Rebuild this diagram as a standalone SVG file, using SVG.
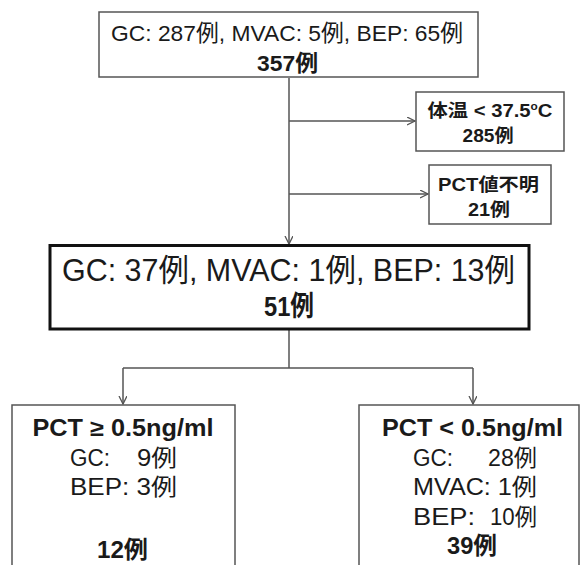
<svg xmlns="http://www.w3.org/2000/svg" width="581" height="565" viewBox="0 0 581 565">
<style>
text{font-family:"Liberation Sans","Noto Sans CJK JP",sans-serif;fill:#1a1a1a}
.b{font-weight:bold}
.m{text-anchor:middle}
.box{fill:#fff;stroke:#555;stroke-width:1.5}
.main{fill:#fff;stroke:#111;stroke-width:3}
.c{fill:none;stroke:#555;stroke-width:1.5}
</style>
<defs>
<marker id="ah" markerWidth="10" markerHeight="10" refX="8" refY="4" orient="auto" markerUnits="userSpaceOnUse">
<path d="M0,0 L8,4 L0,8" fill="none" stroke="#555" stroke-width="1.3"/>
</marker>
</defs>
<g id="connectors">
<path class="c" d="M289,78 V244" marker-end="url(#ah)"/>
<path class="c" d="M289,121 H415" marker-end="url(#ah)"/>
<path class="c" d="M289,194 H428" marker-end="url(#ah)"/>
<path class="c" d="M289,330 V368 M123,368 H473"/>
<path class="c" d="M123,368 V404" marker-end="url(#ah)"/>
<path class="c" d="M473,368 V404" marker-end="url(#ah)"/>
</g>
<g id="n-all">
<rect class="box" x="99" y="12" width="379" height="65"/>
<text class="m" x="287" y="41" font-size="22.5" textLength="352" lengthAdjust="spacingAndGlyphs">GC: 287例, MVAC: 5例, BEP: 65例</text>
<text class="m b" x="287.5" y="71" font-size="22.5" textLength="61" lengthAdjust="spacingAndGlyphs">357例</text>
</g>
<g id="n-temp">
<rect class="box" x="416" y="92" width="148" height="59"/>
<text class="m b" x="490" y="117" font-size="18" textLength="125" lengthAdjust="spacingAndGlyphs">体温 &lt; 37.5<tspan font-size="10.5" dy="-7">o</tspan><tspan dy="7">C</tspan></text>
<text class="m b" x="488" y="142" font-size="18" textLength="51" lengthAdjust="spacingAndGlyphs">285例</text>
</g>
<g id="n-unknown">
<rect class="box" x="429" y="165" width="122" height="59"/>
<text class="m b" x="488.5" y="191" font-size="18" textLength="101" lengthAdjust="spacingAndGlyphs">PCT値不明</text>
<text class="m b" x="489" y="216" font-size="18" textLength="42" lengthAdjust="spacingAndGlyphs">21例</text>
</g>
<g id="n-fever">
<rect class="main" x="50" y="245.5" width="479" height="83.5"/>
<text class="m" x="288.5" y="281" font-size="31" textLength="453" lengthAdjust="spacingAndGlyphs">GC: 37例, MVAC: 1例, BEP: 13例</text>
<text class="m b" x="289" y="316" font-size="28" textLength="50" lengthAdjust="spacingAndGlyphs">51例</text>
</g>
<g id="n-high">
<rect class="box" x="12" y="405" width="223" height="200"/>
<text class="m b" x="123" y="436" font-size="23" textLength="181" lengthAdjust="spacingAndGlyphs">PCT ≥ 0.5ng/ml</text>
<text x="70" y="466" font-size="23"><tspan textLength="40" lengthAdjust="spacingAndGlyphs">GC:</tspan><tspan x="137" textLength="40" lengthAdjust="spacingAndGlyphs">9例</tspan></text>
<text x="70" y="495" font-size="23" textLength="107" lengthAdjust="spacingAndGlyphs">BEP: 3例</text>
<text class="m b" x="122.5" y="558" font-size="24" textLength="51" lengthAdjust="spacingAndGlyphs">12例</text>
</g>
<g id="n-low">
<rect class="box" x="359" y="405" width="220" height="200"/>
<text class="m b" x="472.5" y="436" font-size="23" textLength="181" lengthAdjust="spacingAndGlyphs">PCT &lt; 0.5ng/ml</text>
<text x="413" y="466" font-size="23"><tspan textLength="40" lengthAdjust="spacingAndGlyphs">GC:</tspan><tspan x="488" textLength="49" lengthAdjust="spacingAndGlyphs">28例</tspan></text>
<text x="413" y="495" font-size="23" textLength="124" lengthAdjust="spacingAndGlyphs">MVAC: 1例</text>
<text x="413" y="525" font-size="23"><tspan textLength="62" lengthAdjust="spacingAndGlyphs">BEP:</tspan><tspan x="490" textLength="47" lengthAdjust="spacingAndGlyphs">10例</tspan></text>
<text class="m b" x="472" y="554" font-size="24" textLength="50" lengthAdjust="spacingAndGlyphs">39例</text>
</g>
</svg>
